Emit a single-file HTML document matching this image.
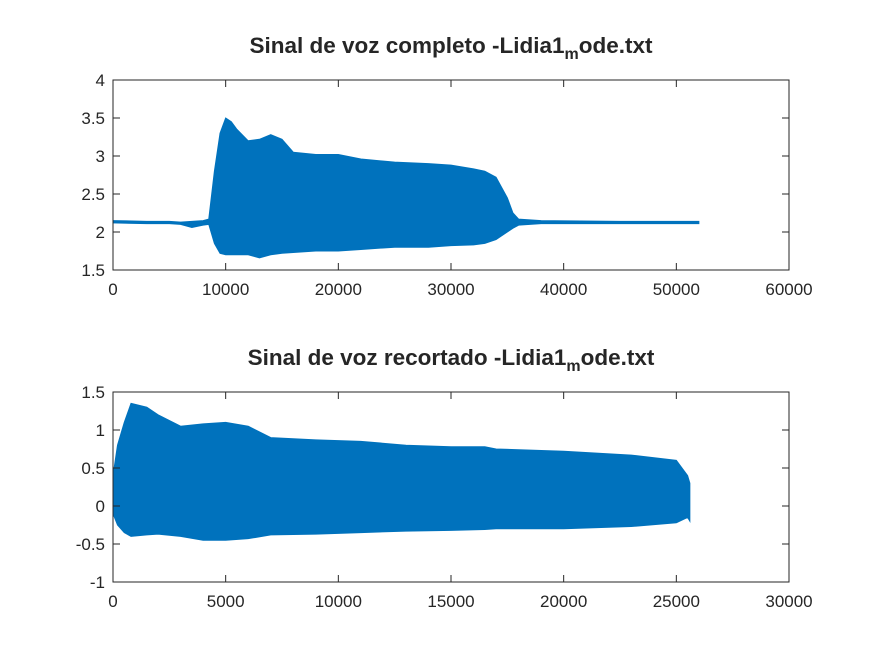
<!DOCTYPE html>
<html><head><meta charset="utf-8"><style>
body{margin:0;background:#fff;}
svg text{font-family:"Liberation Sans",sans-serif;fill:#262626;}
</style></head><body>
<svg id="c" width="872" height="654" xmlns="http://www.w3.org/2000/svg"></svg>
<script>
const topX=[0,3,5,6,7,8,8.5,9,9.5,10,10.5,11,12,13,14,15,16,18,20,22,25,28,30,32,33,34,35,35.5,36,38,45,52];
const topHi=[2.15,2.14,2.14,2.13,2.14,2.15,2.17,2.8,3.3,3.5,3.45,3.35,3.2,3.22,3.28,3.22,3.05,3.02,3.02,2.96,2.92,2.9,2.88,2.83,2.8,2.72,2.45,2.25,2.17,2.15,2.14,2.14];
const topLo=[2.12,2.11,2.11,2.1,2.06,2.09,2.1,1.85,1.72,1.7,1.7,1.7,1.7,1.66,1.7,1.72,1.73,1.75,1.75,1.77,1.8,1.8,1.82,1.83,1.85,1.9,2.0,2.05,2.09,2.11,2.11,2.11];
const botX=[0,0.2,0.5,0.8,1.5,2,3,4,5,6,7,9,11,13,15,16.5,17,20,23,25,25.5,25.6];
const botHi=[0.4,0.8,1.1,1.35,1.3,1.2,1.05,1.08,1.1,1.05,0.9,0.87,0.85,0.8,0.78,0.78,0.75,0.72,0.67,0.6,0.4,0.3];
const botLo=[-0.1,-0.25,-0.35,-0.4,-0.38,-0.37,-0.4,-0.45,-0.45,-0.43,-0.38,-0.37,-0.35,-0.33,-0.32,-0.31,-0.3,-0.3,-0.27,-0.22,-0.15,-0.2];
const topXTicks=[0,10000,20000,30000,40000,50000,60000];
const topYTicks=[1.5,2,2.5,3,3.5,4];
const botXTicks=[0,5000,10000,15000,20000,25000,30000];
const botYTicks=[-1,-0.5,0,0.5,1,1.5];
const svg=document.getElementById('c');const NS='http://www.w3.org/2000/svg';
function mk(t,a,p){const e=document.createElementNS(NS,t);for(const k in a)e.setAttribute(k,a[k]);(p||svg).appendChild(e);return e;}
function panel(name,x0,x1,y0,y1,xmin,xmax,ymin,ymax,X,H,L,xt,yt,title){
 const g=mk('g',{});
 
 
 const sx=v=>x0+(v-xmin)/(xmax-xmin)*(x1-x0), sy=v=>y1-(v-ymin)/(ymax-ymin)*(y1-y0);
 let d='M'+X.map((x,i)=>sx(x*1000)+','+sy(H[i])).join('L')+'L'+X.slice().reverse().map((x,i)=>sx(x*1000)+','+sy(L[L.length-1-i])).join('L')+'Z';
 const p=mk('path',{d:d,fill:'#0072bd',stroke:'#0072bd','stroke-width':1},g);
 
 
 const r=mk('rect',{x:x0,y:y0,width:x1-x0,height:y1-y0,fill:'none',stroke:'#262626','stroke-width':1},g);
 
 
 xt.forEach(v=>{const x=sx(v);mk('line',{x1:x,x2:x,y1:y1,y2:y1-7,stroke:'#262626'},g);mk('line',{x1:x,x2:x,y1:y0,y2:y0+7,stroke:'#262626'},g);
  const t=mk('text',{x:x,y:y1+25,'text-anchor':'middle','font-size':17},g);t.textContent=v;
  
  });
 yt.forEach(v=>{const y=sy(v);mk('line',{x1:x0,x2:x0+7,y1:y,y2:y,stroke:'#262626'},g);mk('line',{x1:x1,x2:x1-7,y1:y,y2:y,stroke:'#262626'},g);
  const t=mk('text',{x:x0-8,y:y+6,'text-anchor':'end','font-size':17},g);t.textContent=v;
  
  });
 const t=mk('text',{x:(x0+x1)/2,y:y0-27,'text-anchor':'middle','font-size':22.5,'font-weight':'bold','fill':'#000'},g);
 t.innerHTML=title+' -Lidia1<tspan font-size="16" dy="6">m</tspan><tspan dy="-6">ode.txt</tspan>';
 
 
}
panel('top-plot',113,789,80,270,0,60000,1.5,4,topX,topHi,topLo,topXTicks,topYTicks,'Sinal de voz completo');
panel('bottom-plot',113,789,392,582,0,30000,-1,1.5,botX,botHi,botLo,botXTicks,botYTicks,'Sinal de voz recortado');
</script>
</body></html>
